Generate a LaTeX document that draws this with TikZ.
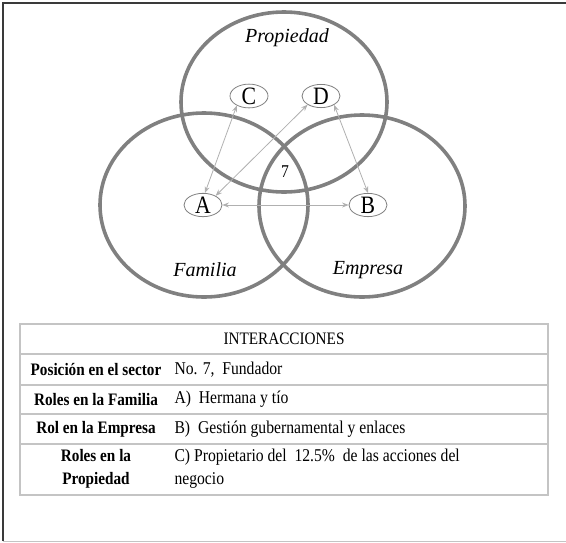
\documentclass[tikz,border=0pt]{standalone}
\usepackage{fontspec}
\setmainfont{Liberation Serif}
\newfontfamily\narrowserif{Liberation Serif}[FakeStretch=0.87]
\usetikzlibrary{arrows.meta,shapes.geometric}
\definecolor{ringgray}{HTML}{808080}
\definecolor{linkgray}{HTML}{B0B0B0}
\definecolor{rulegray}{HTML}{C4C4C4}
\definecolor{framedark}{HTML}{3A3A3A}
\begin{document}
\begin{tikzpicture}[x=1pt,y=-1pt,
  ring/.style={draw=ringgray,line width=3.6pt},
  setlabel/.style={font=\fontsize{20}{24}\selectfont\itshape},
  actor/.style={draw=ringgray,line width=0.8pt,fill=white,ellipse,
    minimum width=38pt,minimum height=23pt,inner sep=0pt,
    font=\narrowserif\fontsize{25}{26}\selectfont},
  link/.style={draw=linkgray,line width=0.8pt,
    {Stealth[length=6.5pt,width=5pt]}-{Stealth[length=6.5pt,width=5pt]}},
  tabrule/.style={draw=rulegray,line width=1.4pt},
  tabhead/.style={font=\narrowserif\fontsize{17.5}{23}\selectfont\bfseries,align=center},
  tabbody/.style={font=\narrowserif\fontsize{18}{23}\selectfont,align=left,anchor=west},
]
\useasboundingbox (0,0) rectangle (566,542);

% outer frame
\draw[framedark,line width=2pt] (3,541) -- (3,3) -- (566,3);
\draw[rulegray,line width=1pt] (3,541) -- (566,541);

% the three overlapping sets
\draw[ring] (284,102) ellipse [x radius=103, y radius=90];
\draw[ring] (204,205) ellipse [x radius=104, y radius=92];
\draw[ring] (362,206) ellipse [x radius=103, y radius=91];

\node[setlabel] (prop) at (287,38) {Propiedad};
\node[setlabel] (fam) at (205,270) {Familia};
\node[setlabel] (emp) at (368,270) {Empresa};
\node[font=\narrowserif\fontsize{18}{20}\selectfont] (seven) at (285,172) {7};

% roles
\node[actor] (C) at (249,96) {C};
\node[actor] (D) at (321,96) {D};
\node[actor] (A) at (203,205) {A};
\node[actor] (B) at (368,205) {B};

\draw[link] (C.218) -- (A.81);
\draw[link] (D.213) -- (A.36);
\draw[link] (D.326) -- (B.north);
\draw[link] (A.east) -- (B.west);

% interactions table
\draw[tabrule] (20,324) rectangle (548,495);
\foreach \yy in {354,385,414,444} \draw[tabrule] (20,\yy) -- (548,\yy);

\node[font=\narrowserif\fontsize{17.5}{18}\selectfont] (title) at (284,339) {INTERACCIONES};

\node[tabhead] (h1) at (96,369.5) {Posición en el sector};
\node[tabhead] (h2) at (96,399.5) {Roles en la Familia};
\node[tabhead] (h3) at (96,429) {Rol en la Empresa};
\node[tabhead] (h4) at (96,469) {Roles en la\\Propiedad};

\node[tabbody] (v1) at (171,369.5) {No. 7,\ \ Fundador};
\node[tabbody] (v2) at (171,399.5) {A)\ \ Hermana y tío};
\node[tabbody] (v3) at (171,429) {B)\ \ Gestión gubernamental y enlaces};
\node[tabbody] (v4) at (171,469) {C) Propietario del\ \ 12.5\%\ \ de las acciones del\\negocio};
\end{tikzpicture}
\end{document}
